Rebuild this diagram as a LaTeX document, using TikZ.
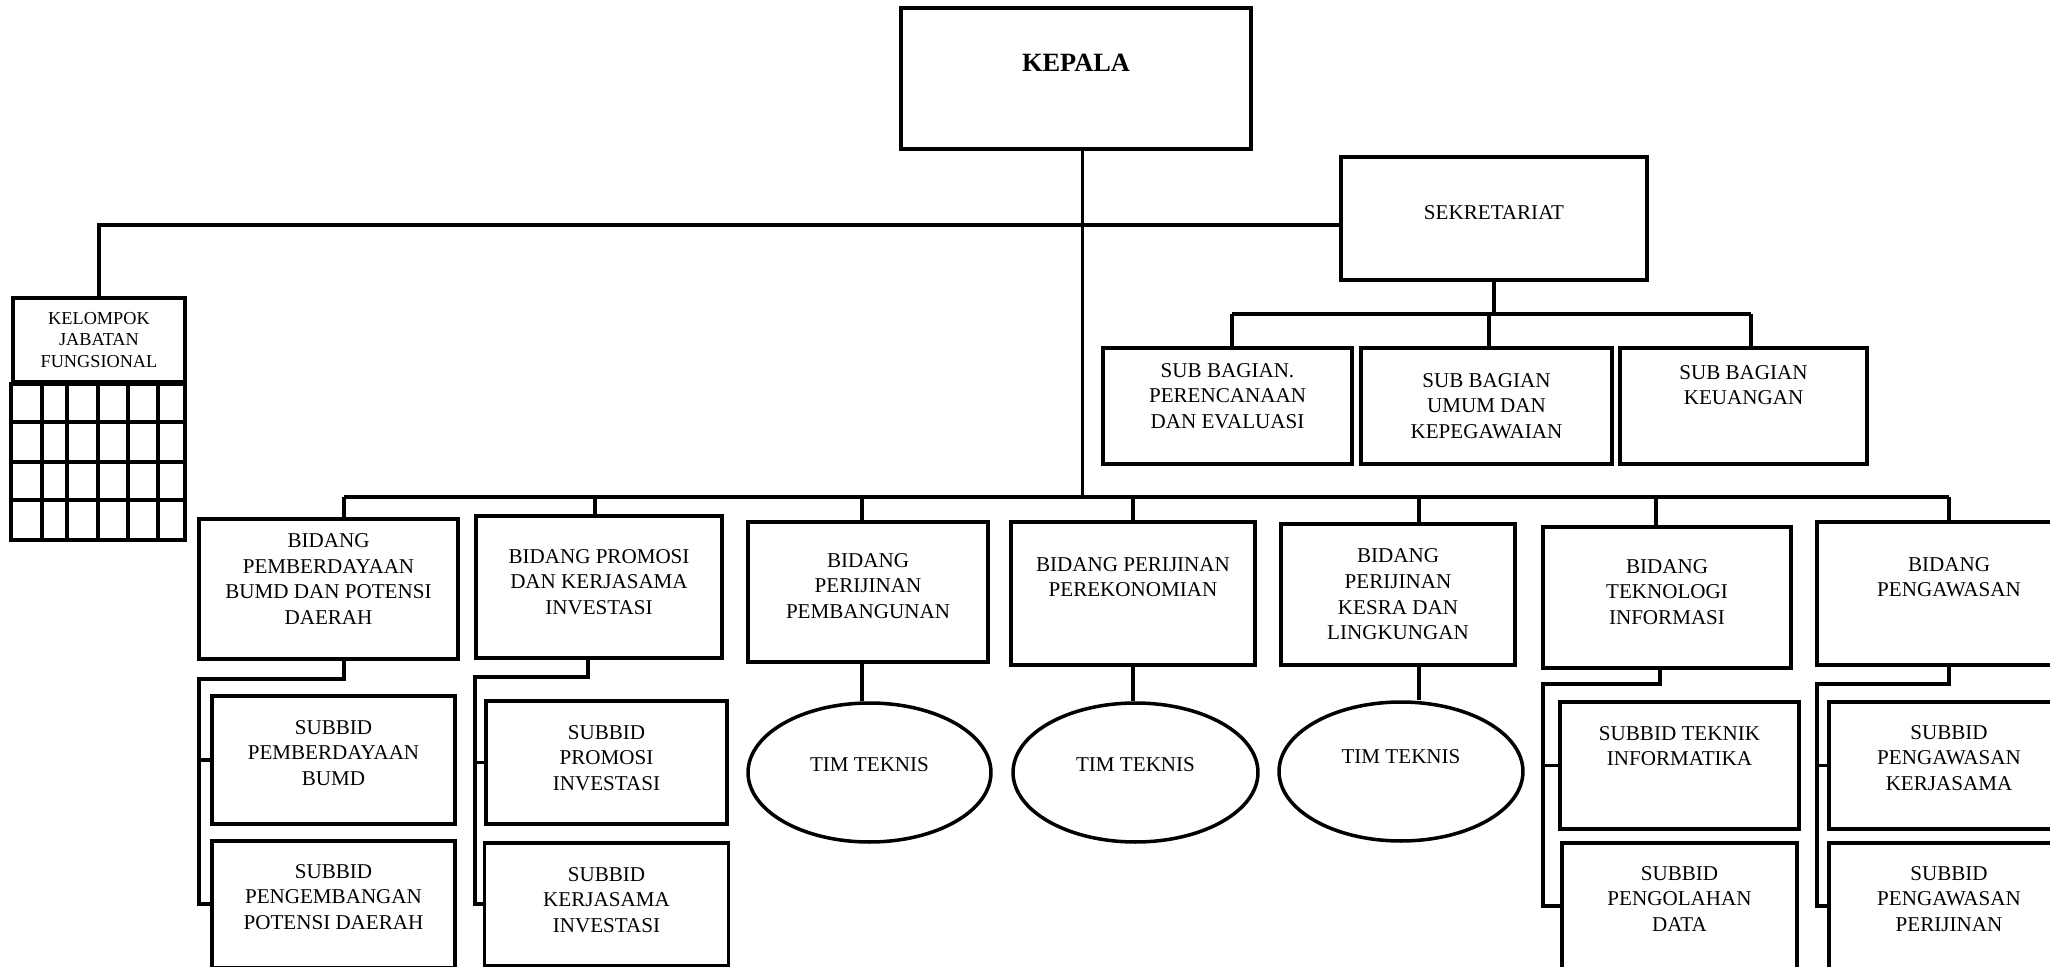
\documentclass[tikz,border=0pt]{standalone}
\usepackage{fontspec}
\setmainfont{Liberation Serif}
\usetikzlibrary{shapes.geometric,positioning}

\begin{document}
\begin{tikzpicture}[x=0.02cm, y=-0.02cm, node distance=0.26cm,
					box/.style={draw, rectangle, line width=2.2pt, align=center, inner sep=2pt, font=\fontsize{12}{14.6}\selectfont},
					tim/.style={draw, ellipse, line width=2pt, minimum height=2.78cm, inner sep=1pt, font=\fontsize{12}{14.6}\selectfont},
					lift/.style={text depth=#1},
					link/.style={line width=2.2pt}]
					\useasboundingbox (0,0) rectangle (2050,967);
					\clip (0,0) rectangle (2050,967);
					
					% pimpinan dan sekretariat
					\node[box, minimum width=7cm, minimum height=2.82cm, lift=0.62cm, font=\fontsize{15}{17}\selectfont\bfseries] (kepala) at (1076,78.5) {KEPALA};
					\node[box, minimum width=6.12cm, minimum height=2.46cm, lift=0.22cm] (sekre) at (1494,218.5) {SEKRETARIAT};
					\node[box, minimum width=3.44cm, minimum height=1.68cm, font=\fontsize{10.4}{12.3}\selectfont] (kjf) at (99,340) {KELOMPOK\\JABATAN\\FUNGSIONAL};
					\draw[link] (kjf.south west) rectangle (185,540);
					\foreach \gx in {42,67,98,128,158}
						\draw[link] (\gx,382) -- (\gx,540);
					\foreach \gy in {422,462,500}
						\draw[link] (13,\gy) -- (185,\gy);
					
					\node[box, minimum width=4.98cm, minimum height=2.32cm, lift=0.4cm] (sbpe) at (1227.5,406) {SUB BAGIAN.\\PERENCANAAN\\DAN EVALUASI};
					\node[box, minimum width=5.02cm, minimum height=2.32cm] (sbum) at (1486.5,406) {SUB BAGIAN\\UMUM DAN\\KEPEGAWAIAN};
					\node[box, minimum width=4.94cm, minimum height=2.32cm, lift=0.84cm] (sbke) at (1743.5,406) {SUB BAGIAN\\KEUANGAN};
					
					% bidang
					\node[box, minimum width=5.18cm, minimum height=2.8cm, lift=0.4cm] (bpem) at (328.5,589) {BIDANG\\PEMBERDAYAAN\\BUMD DAN POTENSI\\DAERAH};
					\node[box, minimum width=4.92cm, minimum height=2.84cm, lift=0.2cm] (bpro) at (599,587) {BIDANG PROMOSI\\DAN KERJASAMA\\INVESTASI};
					\node[box, minimum width=4.8cm, minimum height=2.8cm, lift=0.24cm] (bpbg) at (868,592) {BIDANG\\PERIJINAN\\PEMBANGUNAN};
					\node[box, minimum width=4.88cm, minimum height=2.86cm, lift=0.66cm] (bpek) at (1133,593.5) {BIDANG PERIJINAN\\PEREKONOMIAN};
					\node[box, minimum width=4.68cm, minimum height=2.82cm] (bkes) at (1398,594.5) {BIDANG\\PERIJINAN\\KESRA DAN\\LINGKUNGAN};
					\node[box, minimum width=4.96cm, minimum height=2.82cm, lift=0.22cm] (bti) at (1667,597.5) {BIDANG\\TEKNOLOGI\\INFORMASI};
					\node[box, minimum width=5.28cm, minimum height=2.86cm, lift=0.66cm] (bpgw) at (1949,593.5) {BIDANG\\PENGAWASAN};
					
					% subbid dan tim teknis
					\node[box, minimum width=4.86cm, minimum height=2.56cm, lift=0.28cm] (spbumd) at (333.5,760) {SUBBID\\PEMBERDAYAAN\\BUMD};
					\node[box, minimum width=4.86cm, minimum height=2.54cm, lift=0.3cm, below=of spbumd] (sppd) {SUBBID\\PENGEMBANGAN\\POTENSI DAERAH};
					\node[box, minimum width=4.82cm, minimum height=2.46cm, lift=0.18cm] (sprom) at (606.5,762.5) {SUBBID\\PROMOSI\\INVESTASI};
					\node[box, minimum width=4.88cm, minimum height=2.46cm, lift=0.18cm, below=0.3cm of sprom] (skerja) {SUBBID\\KERJASAMA\\INVESTASI};
					\node[tim, minimum width=4.86cm, lift=0.3cm] (tim1) at (869.5,772.5) {TIM TEKNIS};
					\node[tim, minimum width=4.9cm, lift=0.3cm] (tim2) at (1135.5,772.5) {TIM TEKNIS};
					\node[tim, minimum width=4.88cm, lift=0.58cm] (tim3) at (1401,771.5) {TIM TEKNIS};
					\node[box, minimum width=4.78cm, minimum height=2.54cm, lift=0.78cm] (stek) at (1679.5,765.5) {SUBBID TEKNIK\\INFORMATIKA};
					\node[box, minimum width=4.7cm, minimum height=2.54cm, lift=0.3cm, below=0.2cm of stek] (sdata) {SUBBID\\PENGOLAHAN\\DATA};
					\node[box, minimum width=4.8cm, minimum height=2.54cm, lift=0.3cm] (spgk) at (1949,765.5) {SUBBID\\PENGAWASAN\\KERJASAMA};
					\node[box, minimum width=4.8cm, minimum height=2.54cm, lift=0.3cm, below=0.2cm of spgk] (spgp) {SUBBID\\PENGAWASAN\\PERIJINAN};
					
					% garis
					\coordinate (bus) at (0,497);
					\coordinate (sbus) at (0,314);
					\draw[link] ([xshift=0.13cm]kepala.south) -- ([xshift=0.13cm]kepala.south |- bus);
					\draw[link] ([yshift=-0.13cm]sekre.west) -| (kjf.north);
					\draw[link] ([xshift=0.31cm]bpem.north |- bus) -- (bpgw.north |- bus);
					\foreach \b/\dx in {bpem/0.31,bpro/-0.08,bpbg/-0.12,bpek/0,bkes/0.42,bti/-0.22,bpgw/0}
						\draw[link] ([xshift=\dx cm]\b.north) -- ([xshift=\dx cm]\b.north |- bus);
					\draw[link] (sekre.south) -- (sekre.south |- sbus);
					\draw[link] ([xshift=0.09cm]sbpe.north |- sbus) -- ([xshift=0.15cm]sbke.north |- sbus);
					\foreach \s/\dx in {sbpe/0.09,sbum/0.05,sbke/0.15}
						\draw[link] ([xshift=\dx cm]\s.north) -- ([xshift=\dx cm]\s.north |- sbus);
					
					\coordinate (k1) at (199,679);
					\coordinate (k2) at (475,677);
					\coordinate (k6) at (1543,684);
					\coordinate (k7) at (1817,684);
					\draw[link] ([xshift=0.31cm]bpem.south) |- (k1) |- (sppd.west);
					\draw[link] (k1 |- spbumd.west) -- (spbumd.west);
					\draw[link] ([xshift=-0.22cm]bpro.south) |- (k2) |- (skerja.west);
					\draw[link] (k2 |- sprom.west) -- (sprom.west);
					\draw[link] ([xshift=-0.14cm]bti.south) |- (k6) |- (sdata.west);
					\draw[link] (k6 |- stek.west) -- (stek.west);
					\draw[link] (bpgw.south) |- (k7) |- (spgp.west);
					\draw[link] (k7 |- spgk.west) -- (spgk.west);
					\draw[link] ([xshift=-0.12cm]bpbg.south) -- ([xshift=-0.12cm]bpbg.south |- tim1.north);
					\draw[link] (bpek.south) -- (bpek.south |- tim2.north);
					\draw[link] ([xshift=0.42cm]bkes.south) -- ([xshift=0.42cm]bkes.south |- tim3.north);
				\end{tikzpicture}
\end{document}
